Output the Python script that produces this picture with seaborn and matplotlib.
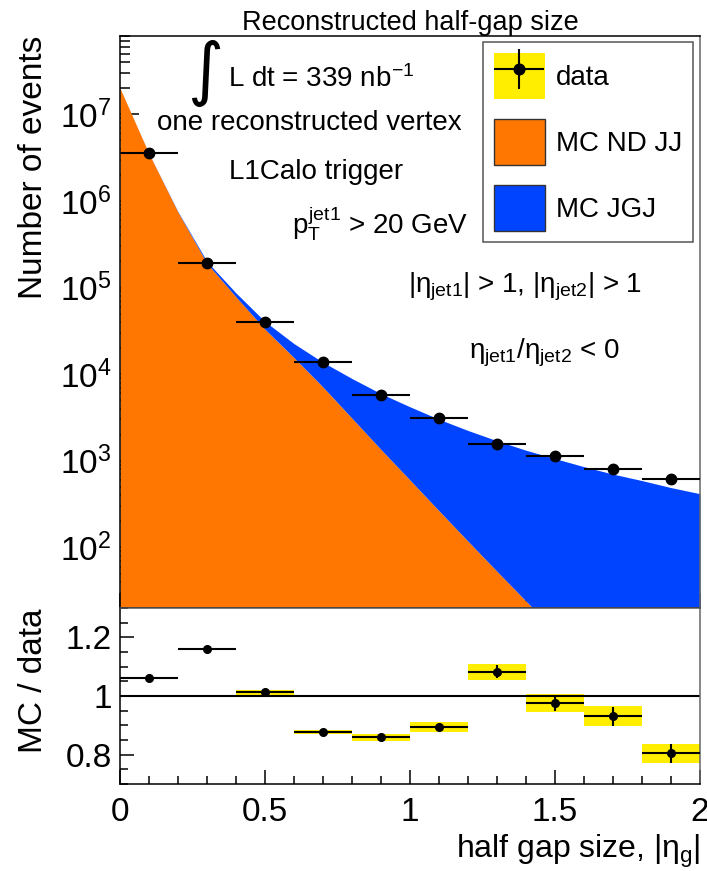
import matplotlib

matplotlib.use("Agg")

import matplotlib.pyplot as plt
import seaborn as sns
from matplotlib.legend_handler import HandlerErrorbar, HandlerTuple
from matplotlib.container import ErrorbarContainer
from matplotlib.patches import Patch
from matplotlib.ticker import FixedLocator, FuncFormatter, LogLocator, MultipleLocator, NullFormatter


# MC prediction, sampled every 0.1 in |eta_g| (stacked: ND JJ below, JGJ on top)
mc_x = [0.0, 0.1, 0.2, 0.3, 0.4, 0.5, 0.6, 0.7, 0.8, 0.9, 1.0,
        1.1, 1.2, 1.3, 1.4, 1.5, 1.6, 1.7, 1.8, 1.9, 2.0]
mc_nd_jj = [2.0e7, 3.5e6, 7.4e5, 1.9e5, 7.8e4, 3.3e4, 1.55e4, 7.1e3, 3.1e3, 1.35e3, 600,
            265, 118, 53, 24, 11, 5, 2.2, 1.0, 0.45, 0.2]
mc_jgj = [1.2e4, 1.1e4, 1.0e4, 9.5e3, 8.5e3, 7.5e3, 7.0e3, 6.6e3, 5.8e3, 4.6e3, 3.6e3,
          2.75e3, 2.12e3, 1.65e3, 1.3e3, 1.05e3, 850, 700, 590, 490, 417]

# data, one point per 0.2-wide bin
bin_centers = [0.1, 0.3, 0.5, 0.7, 0.9, 1.1, 1.3, 1.5, 1.7, 1.9]
data_events = [3.55e6, 1.94e5, 4.0e4, 1.38e4, 5.7e3, 3.1e3, 1.57e3, 1.14e3, 810, 620]

# MC / data ratio
ratio = [1.062, 1.159, 1.012, 0.878, 0.860, 0.894, 1.082, 0.977, 0.931, 0.804]
ratio_stat = [0.002, 0.002, 0.003, 0.004, 0.006, 0.010, 0.022, 0.027, 0.032, 0.032]
ratio_band = [0.002, 0.003, 0.007, 0.0075, 0.012, 0.017, 0.027, 0.030, 0.034, 0.033]

ORANGE = "#ff7700"
BLUE = "#0044ff"
YELLOW = "#ffee00"

W, H = 707, 871

sns.set_theme(style="ticks")
plt.rcParams["font.family"] = ["Liberation Sans", "DejaVu Sans"]
plt.rcParams["mathtext.fontset"] = "custom"
plt.rcParams["mathtext.rm"] = "Liberation Sans"
plt.rcParams["mathtext.it"] = "Liberation Sans"
plt.rcParams["mathtext.bf"] = "Liberation Sans:bold"
plt.rcParams["axes.linewidth"] = 1.1
for key in ["text.color", "axes.labelcolor", "xtick.color", "ytick.color", "axes.edgecolor"]:
    plt.rcParams[key] = "black"


def px_rect(left, top, right, bottom):
    return [left / W, 1 - bottom / H, (right - left) / W, (bottom - top) / H]


fig = plt.figure(figsize=(W / 100, H / 100), dpi=100)
ax = fig.add_axes(px_rect(120, 36, 700, 608))
axr = fig.add_axes(px_rect(120, 608, 700, 784))

# ---- top panel ----
mc_total = [a + b for a, b in zip(mc_nd_jj, mc_jgj)]
ax.fill_between(mc_x, 0.01, mc_nd_jj, color=ORANGE, lw=0, zorder=1)
ax.fill_between(mc_x, mc_nd_jj, mc_total, color=BLUE, lw=0, zorder=1)

ax.errorbar(bin_centers, data_events, xerr=0.1, fmt="o", color="black",
            ms=7.5, elinewidth=1.5, capsize=0, zorder=5)

ax.set_yscale("log")
ax.set_xlim(0, 2)
ax.set_ylim(20, 8e7)
ax.yaxis.set_major_locator(LogLocator(base=10, numticks=12))
ax.yaxis.set_minor_locator(LogLocator(base=10, subs=range(2, 10), numticks=12))
ax.yaxis.set_minor_formatter(NullFormatter())
ax.xaxis.set_major_locator(MultipleLocator(0.5))
ax.xaxis.set_minor_locator(MultipleLocator(0.1))
ax.tick_params(axis="y", which="major", direction="in", length=14, width=1.1,
               labelsize=24, pad=6, right=False)
ax.tick_params(axis="y", which="minor", direction="in", length=7, width=1.1, right=False)
ax.tick_params(axis="x", which="major", direction="in", length=11, width=1.1,
               labelbottom=False, top=False)
ax.tick_params(axis="x", which="minor", direction="in", length=6, width=1.1, top=False)
ax.spines["right"].set_color("#666666")

ax.set_ylabel("Number of events", fontsize=24, loc="top", labelpad=8)
ax.set_title("Reconstructed half-gap size", fontsize=19.5, pad=4)

# ---- ratio panel ----
axr.bar(bin_centers, [2 * e for e in ratio_band],
        bottom=[r - e for r, e in zip(ratio, ratio_band)],
        width=0.2, color=YELLOW, lw=0, zorder=1)
axr.axhline(1.0, color="black", lw=1.5, zorder=2)
ratio_points = axr.errorbar(bin_centers, ratio, xerr=0.1, yerr=ratio_stat, fmt="o",
                            color="black", ms=5.5, elinewidth=1.5, capsize=0, zorder=3)

axr.set_xlim(0, 2)
axr.set_ylim(0.7, 1.3)
axr.yaxis.set_major_locator(FixedLocator([0.8, 1.0, 1.2]))
axr.yaxis.set_minor_locator(MultipleLocator(0.05))
axr.yaxis.set_major_formatter(FuncFormatter(lambda v, p: f"{v:g}"))
axr.xaxis.set_major_locator(MultipleLocator(0.5))
axr.xaxis.set_minor_locator(MultipleLocator(0.1))
axr.xaxis.set_major_formatter(FuncFormatter(lambda v, p: f"{v:g}"))
axr.tick_params(axis="both", which="major", direction="in", length=10, width=1.1,
                labelsize=24, top=False, right=False)
axr.tick_params(axis="both", which="minor", direction="in", length=5.5, width=1.1,
                top=False, right=False)
axr.tick_params(axis="x", which="major", pad=9)
axr.tick_params(axis="y", which="major", pad=6)
axr.spines["right"].set_color("#666666")
axr.spines["top"].set_color("#555555")

axr.set_ylabel("MC / data", fontsize=24, loc="top", labelpad=12)
axr.set_xlabel(r"half gap size, |$\eta_{g}$|", fontsize=23, loc="right", labelpad=4)

# ---- annotations ----
ax.text(0.147, 0.935, "\u222b", transform=ax.transAxes, fontsize=50,
        family="DejaVu Sans", ha="center", va="center")
ax.text(0.186, 0.925, r"L dt = 339 nb$^{-1}$", transform=ax.transAxes,
        fontsize=20, ha="left", va="center")
ax.text(0.327, 0.848, "one reconstructed vertex", transform=ax.transAxes,
        fontsize=20, ha="center", va="center")
ax.text(0.338, 0.762, "L1Calo trigger", transform=ax.transAxes,
        fontsize=20, ha="center", va="center")
ax.text(0.448, 0.672, r"$p_{T}^{jet1}$ > 20 GeV", transform=ax.transAxes,
        fontsize=20, ha="center", va="center")
ax.text(0.698, 0.561, r"|$\eta_{jet1}$| > 1, |$\eta_{jet2}$| > 1", transform=ax.transAxes,
        fontsize=20, ha="center", va="center")
ax.text(0.731, 0.446, r"$\eta_{jet1}/\eta_{jet2}$ < 0", transform=ax.transAxes,
        fontsize=20, ha="center", va="center")

# ---- legend ----
handles = [
    (Patch(facecolor=YELLOW, edgecolor="none"), ratio_points),
    Patch(facecolor=ORANGE, edgecolor="#333333", lw=1),
    Patch(facecolor=BLUE, edgecolor="#333333", lw=1),
]
leg = ax.legend(
    handles,
    ["data", "MC ND JJ", "MC JGJ"],
    handler_map={tuple: HandlerTuple(ndivide=1),
                 ErrorbarContainer: HandlerErrorbar(xerr_size=0.9, yerr_size=0.72)},
    loc="upper right",
    bbox_to_anchor=(693 / W, 1 - 42 / H),
    bbox_transform=fig.transFigure,
    borderaxespad=0,
    fontsize=20,
    numpoints=1,
    markerscale=1.4,
    handlelength=1.83,
    handleheight=2.17,
    handletextpad=0.4,
    labelspacing=0.72,
    borderpad=0.4,
    fancybox=False,
    framealpha=1,
    edgecolor="#555555",
)
leg.get_frame().set_linewidth(1.1)

fig.savefig("out.png", dpi=100)
